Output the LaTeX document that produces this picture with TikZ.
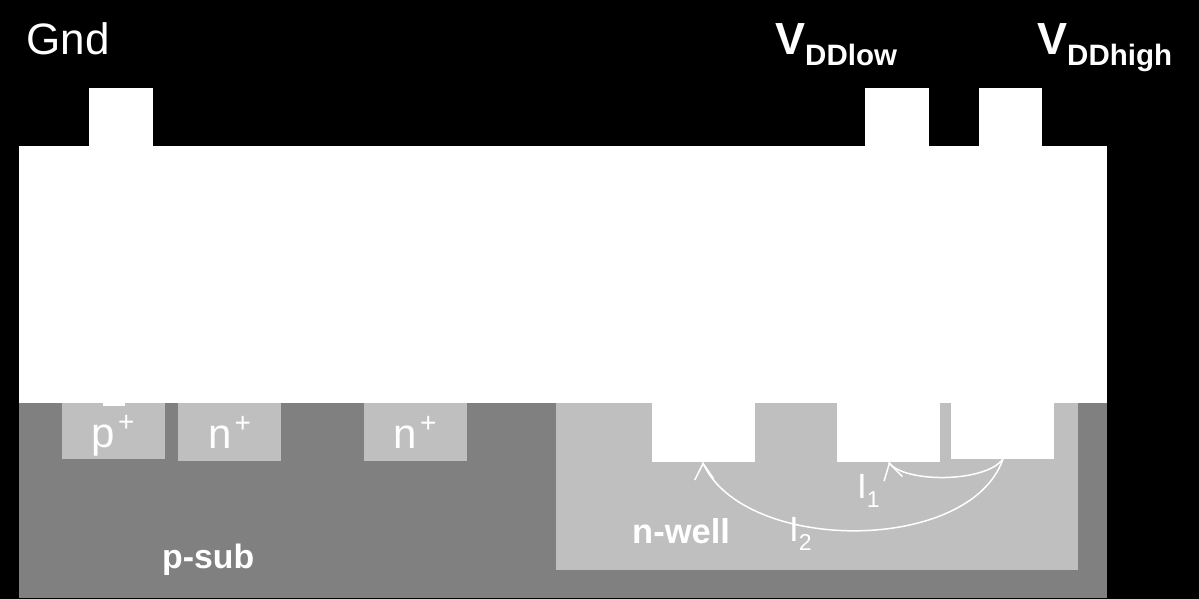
\documentclass[tikz,border=0pt]{standalone}
\usepackage{fontspec}
\setmainfont{Liberation Sans}
\usetikzlibrary{arrows.meta}
\definecolor{subgray}{HTML}{808080}
\definecolor{wellgray}{HTML}{BFBFBF}
\newcommand{\pxfont}[1]{\fontsize{#1}{#1}\selectfont}
\begin{document}
\begin{tikzpicture}[x=1pt,y=-1pt,
    lbl/.style={text=white,inner sep=0pt,anchor=base west},
    current/.style={white,line width=1.5pt,-{Straight Barb[length=16pt,width=19pt,line width=1.5pt]}}]
            \useasboundingbox (0,0) rectangle (1199,599);
            \fill[black] (0,0) rectangle (1199,599);

            % substrate and oxide
            \fill[subgray] (19,403) rectangle (1107,598);
            \fill[white] (19,146) rectangle (1107,403);

            % metal pads
            \fill[white] (89,88) rectangle (153,147);
            \fill[white] (865,88) rectangle (929,147);
            \fill[white] (979,88) rectangle (1042,147);

            % diffusions
            \fill[wellgray] (61.5,403) rectangle (165,459);
            \fill[wellgray] (178,403) rectangle (281,461);
            \fill[wellgray] (364,403) rectangle (467,461);
            \fill[wellgray] (556,403) rectangle (1078,570);
            \fill[white] (103,402) rectangle (125,405.5);

            % contacts in the well
            \fill[white] (652,402) rectangle (755,461.5);
            \fill[white] (837,402) rectangle (940,461.5);
            \fill[white] (951,402) rectangle (1054,459);

            \coordinate (srchigh) at (1003,459);
            \coordinate (drainlow) at (889,462);
            \coordinate (drainlowend) at (889.25,463);
            \coordinate (drainmid) at (703,462);
            \coordinate (drainmidend) at (703.1,463.5);

            % currents
            \draw[current] (srchigh) .. controls (985,483) and (905,483) .. (drainlowend) -- (drainlow);
            \draw[current] (srchigh) .. controls (970,554) and (745,554) .. (drainmidend) -- (drainmid);

            % labels
            \node[lbl] (gnd) at (26.5,55) {\pxfont{44}Gnd};
            \node[lbl] (vlow) at (775,55) {\pxfont{45}\bfseries V\raisebox{-11pt}{\pxfont{29.5}DDlow}};
            \node[lbl] (vhigh) at (1037,55) {\pxfont{45}\bfseries V\raisebox{-11pt}{\pxfont{29.5}DDhigh}};
            \node[lbl] (pplus) at (91.5,447) {\pxfont{42}p\kern3pt\raisebox{16pt}{\pxfont{28}+}};
            \node[lbl] (nplusa) at (208,448) {\pxfont{42}n\kern3pt\raisebox{16pt}{\pxfont{28}+}};
            \node[lbl] (nplusb) at (393.5,448) {\pxfont{42}n\kern3pt\raisebox{16pt}{\pxfont{28}+}};
            \node[lbl] (psub) at (162,568) {\pxfont{33.8}\bfseries p-sub};
            \node[lbl] (nwell) at (632,543) {\pxfont{34.5}\bfseries n-well};
            \node[lbl] (ione) at (857,498) {\pxfont{35}I\raisebox{-9pt}{\pxfont{23}1}};
            \node[lbl] (itwo) at (789,541) {\pxfont{35}I\raisebox{-9pt}{\pxfont{23}2}};
        \end{tikzpicture}
\end{document}
